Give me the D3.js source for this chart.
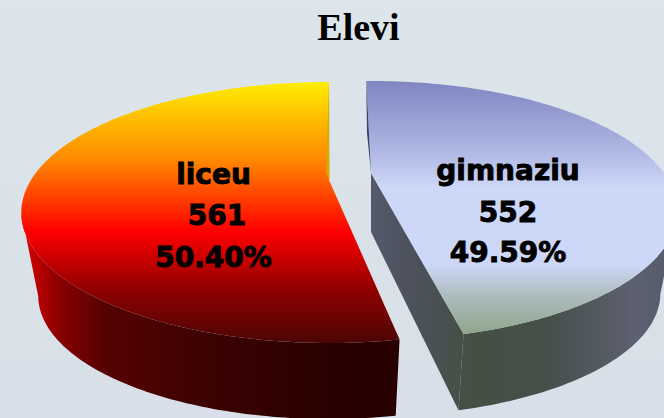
<!DOCTYPE html>
<html>
<head>
<meta charset="utf-8">
<script src="https://cdnjs.cloudflare.com/ajax/libs/d3/7.8.5/d3.min.js"></script>
<style>
html, body { margin: 0; padding: 0; background: #dbe3e9; }
svg { display: block; }
</style>
</head>
<body>
<div id="chart"></div>
<script>
/* Data
============================================= */
const categories = ["gimnaziu", "liceu"];
const pupils = [552, 561];
const percentLabels = ["49.59%", "50.40%"];
const chartTitle = "Elevi";

/* Layout
============================================= */
const SVG_WIDTH = 664;
const SVG_HEIGHT = 418;
const DEG = Math.PI / 180;

// each slice is exploded and has its own perspective
const slices = [
    { ax: 371, ay: 173, rx: 293, ry: 118.7, k: 0.29, sweep: [-1.2, 166.9], wallDrop: 85, apexDrop: 59, outerEnd: "max",
      labelX: [508, 508, 508], lines: [180, 222, 262] },
    { ax: 329, ay: 180, rx: 298, ry: 122.4, k: 0.249, sweep: [169.7, 360], wallDrop: 85, apexDrop: 85, outerEnd: "min",
      labelX: [213.5, 217, 213.5], lines: [184, 225, 267] }
];
const WALL_SCALE = 0.945;

const topStops = [
    [[0, "#7f86c2"], [0.28, "#b0b8e4"], [0.42, "#cdd8f8"], [0.72, "#cdd8f8"], [0.84, "#aebdc0"], [1, "#8ea58a"]],
    [[0, "#ffee00"], [0.13, "#ffc000"], [0.3, "#ff8800"], [0.57, "#ff0000"], [0.8, "#8e0000"], [1, "#4c0505"]]
];
const wallStops = [
    [[0, "#555a6b"], [0.14, "#4c515c"], [0.35, "#454f42"], [0.6, "#474f4a"], [0.9, "#5c6070"], [1, "#565c6c"]],
    [[0, "#e00000"], [0.1, "#8a0000"], [0.22, "#560202"], [0.5, "#3c0202"], [0.8, "#2b0000"], [1, "#270000"]]
];
const wallRanges = [[371, 664], [21, 400]];
const topRanges = [[81, 335], [82, 343]];

/* Draw
============================================= */
var svg = d3.select("#chart")
    .append("svg")
    .attr("width", SVG_WIDTH)
    .attr("height", SVG_HEIGHT);

var defs = svg.append("defs");

addGradient("bg", 0, 0, 0, SVG_HEIGHT, [[0, "#dce6ea"], [1, "#d8dfe8"]]);
categories.forEach(function(c, i) {
    addGradient("top" + i, 0, topRanges[i][0], 0, topRanges[i][1], topStops[i]);
    addGradient("wall" + i, wallRanges[i][0], 0, wallRanges[i][1], 0, wallStops[i]);
});

svg.append("rect")
    .attr("width", SVG_WIDTH)
    .attr("height", SVG_HEIGHT)
    .attr("fill", "url(#bg)");

var pie = d3.pie().sort(null).value(function(d) { return d; });
var arcs = pie(pupils);
var line = d3.line();

arcs.forEach(function(arc, i) {
    var s = slices[i];
    var angle = d3.scaleLinear()
        .domain([arc.startAngle, arc.endAngle])
        .range([s.sweep[0] * DEG, s.sweep[1] * DEG]);

    var rim = d3.range(0, 201).map(function(t) {
        return project(s, angle(arc.startAngle + (arc.endAngle - arc.startAngle) * t / 200));
    });

    var frontIndex = i === 0 ? rim.length - 1 : 0;
    var extreme = s.outerEnd === "max" ? d3.greatest(rim, function(p) { return p[0]; })
                                       : d3.least(rim, function(p) { return p[0]; });
    var extremeIndex = rim.indexOf(extreme);

    // outer wall, from the widest point round to the front corner
    var outer = i === 0 ? rim.slice(extremeIndex) : rim.slice(0, extremeIndex + 1);
    var wall = outer.concat(outer.slice().reverse().map(function(p) { return drop(s, p); }));
    svg.append("path")
        .attr("d", line(wall) + "Z")
        .attr("fill", "url(#wall" + i + ")");

    // cut face of the right slice
    if (i === 0) {
        var front = rim[frontIndex];
        svg.append("path")
            .attr("d", line([[s.ax, s.ay], front, drop(s, front), [s.ax, s.ay + s.apexDrop]]) + "Z")
            .attr("fill", "url(#wall0)");
    }

    // top face
    svg.append("path")
        .attr("d", line([[s.ax, s.ay]].concat(rim)) + "Z")
        .attr("fill", "url(#top" + i + ")");

    // thin sliver of the back cut
    var back = i === 0 ? rim[0] : rim[rim.length - 1];
    var sliver = i === 0
        ? [back, [s.ax, s.ay], [s.ax - 4, s.ay - 40]]
        : [back, [s.ax + 0.5, s.ay], [s.ax - 3, s.ay - 7]];
    svg.append("path")
        .attr("d", line(sliver) + "Z")
        .attr("fill", i === 0 ? "#3c4264" : "#d9a800");

    // labels, stroked to get the heavy look
    [categories[i], pupils[i], percentLabels[i]].forEach(function(txt, j) {
        svg.append("text")
            .attr("x", s.labelX[j])
            .attr("y", s.lines[j])
            .attr("text-anchor", "middle")
            .attr("font-family", "'DejaVu Sans', sans-serif")
            .attr("font-weight", "bold")
            .attr("font-size", 28)
            .attr("fill", "#000")
            .attr("stroke", "#000")
            .attr("stroke-width", 0.9)
            .text(txt);
    });
});

svg.append("text")
    .attr("x", 358.5)
    .attr("y", 40)
    .attr("text-anchor", "middle")
    .attr("font-family", "'Liberation Serif', serif")
    .attr("font-weight", "bold")
    .attr("font-size", 38)
    .attr("fill", "#000")
    .text(chartTitle);

/* Functions
============================================= */

/*
 * perspective view of a point on the pie rim
 *
 * @param s slice settings, a angle from the back of the pie
 * @return [x, y]
 */
function project(s, a) {
    var f = 1 / (1 + s.k * Math.cos(a));
    return [s.ax + s.rx * Math.sin(a) * f, s.ay - s.ry * Math.cos(a) * f];
}

/*
 * rim point moved to the bottom of the wall
 */
function drop(s, p) {
    return [s.ax + (p[0] - s.ax) * WALL_SCALE, s.ay + s.wallDrop + (p[1] - s.ay) * WALL_SCALE];
}

function addGradient(id, x1, y1, x2, y2, stops) {
    var g = defs.append("linearGradient")
        .attr("id", id)
        .attr("gradientUnits", "userSpaceOnUse")
        .attr("x1", x1).attr("y1", y1)
        .attr("x2", x2).attr("y2", y2);
    g.selectAll("stop")
        .data(stops)
        .enter()
        .append("stop")
        .attr("offset", function(d) { return d[0]; })
        .attr("stop-color", function(d) { return d[1]; });
}
</script>
</body>
</html>
